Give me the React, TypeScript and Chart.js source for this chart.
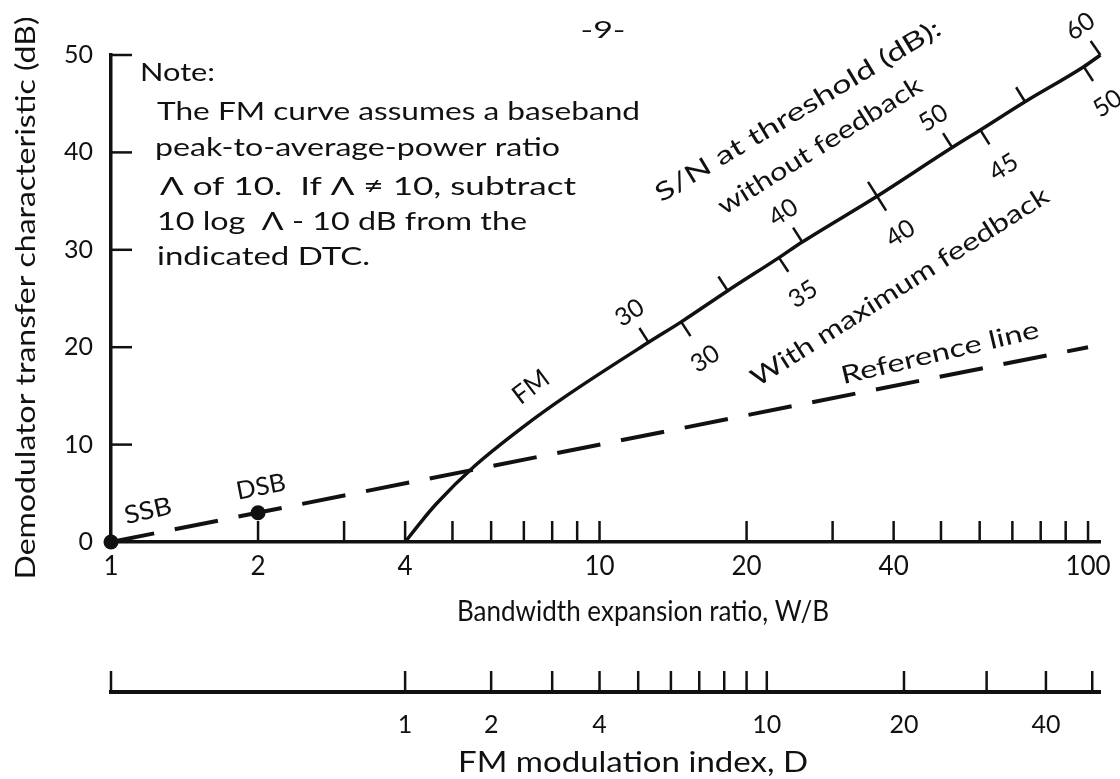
import React, { useEffect, useRef } from 'react';
import { Chart, registerables } from 'chart.js';

Chart.register(...registerables);

// ---------- data ----------
const X_MIN = 1;
const X_MAX = 105.8;
const WB_AXIS_TICKS = [1, 2, 3, 4, 5, 6, 7, 8, 9, 10, 20, 30, 40, 50, 60, 70, 80, 90, 100];
const WB_AXIS_LABELS = ['1', '2', '', '4', '', '', '', '', '', '10', '20', '', '40', '', '', '', '', '', '100'];
const DTC_TICKS = [0, 10, 20, 30, 40, 50];
// FM modulation index D axis: tick positions expressed in W/B
const D_TICK_WB = [1, 4, 6, 8, 10, 12, 14, 16, 18, 20, 22, 42, 62, 82, 102];
const D_LABELS = ['', '1', '2', '', '4', '', '', '', '', '', '10', '20', '', '40', ''];

const FM_WB = [4, 4.3, 4.63, 5.55, 6.97, 8.55, 12.6, 14.7, 18.3, 23.3, 26, 37, 52.7, 60.2, 74.3, 98, 106];
const FM_DTC = [0, 2.0, 3.9, 7.8, 11.8, 15.0, 20.5, 22.6, 25.8, 29.2, 30.8, 35.5, 40.5, 42.3, 45.2, 48.8, 50];

const REF_WB = [1, 100];
const REF_DTC = [0, 20];

const SYSTEM_NAMES = ['SSB', 'DSB'];
const SYSTEM_WB = [1, 2];
const SYSTEM_DTC = [0, 3];

const SN_NOFB_WB = [12.6, 18.3, 26, 37, 52.7, 74.3, 106];
const SN_NOFB_LABELS = ['30', '', '40', '', '50', '', '60'];
const SN_FB_WB = [14.7, 23.3, 37, 60.2, 98];
const SN_FB_LABELS = ['30', '35', '40', '45', '50'];

const NOTE_LINES = [
  'Note:',
  'The FM curve assumes a baseband',
  'peak-to-average-power ratio',
  '\u039B of 10.  If \u039B \u2260 10, subtract',
  '10 log  \u039B - 10 dB from the',
  'indicated DTC.',
];

// ---------- styles ----------
const FONT = 'Lato, "Open Sans", "DejaVu Sans", sans-serif';
const INK = '#111111';

function drawText(
  ctx: CanvasRenderingContext2D,
  s: string,
  x: number,
  y: number,
  size: number,
  opts: { w?: number; rot?: number; align?: 'left' | 'center' | 'right' } = {}
) {
  const { w, rot = 0, align = 'center' } = opts;
  ctx.save();
  ctx.translate(x, y);
  ctx.rotate((rot * Math.PI) / 180);
  ctx.font = `${size}px ${FONT}`;
  ctx.textBaseline = 'middle';
  ctx.textAlign = 'left';
  const mw = ctx.measureText(s).width;
  const sx = w ? w / mw : 1;
  const dw = mw * sx;
  const start = align === 'center' ? -dw / 2 : align === 'right' ? -dw : 0;
  ctx.translate(start, 0);
  ctx.scale(sx, 1);
  ctx.fillText(s, 0, 0);
  ctx.restore();
}

function fmAt(v: number) {
  const lx = Math.log10(v);
  for (let i = 0; i < FM_WB.length - 1; i++) {
    const a = Math.log10(FM_WB[i]);
    const b = Math.log10(FM_WB[i + 1]);
    if (lx >= a && lx <= b) return FM_DTC[i] + ((FM_DTC[i + 1] - FM_DTC[i]) * (lx - a)) / (b - a);
  }
  return lx < Math.log10(FM_WB[0]) ? FM_DTC[0] : FM_DTC[FM_DTC.length - 1];
}

const annotate = {
  id: 'annotate',
  afterDraw(chart: any) {
    const ctx: CanvasRenderingContext2D = chart.ctx;
    const xs = chart.scales.x;
    const x2 = chart.scales.x2;
    const ys = chart.scales.y;
    const { left, bottom } = chart.chartArea;
    const line = (a: number, b: number, c: number, d: number) => {
      ctx.beginPath();
      ctx.moveTo(a, b);
      ctx.lineTo(c, d);
      ctx.stroke();
    };
    ctx.save();
    ctx.strokeStyle = INK;
    ctx.fillStyle = INK;
    ctx.lineCap = 'butt';
    ctx.lineWidth = 2.5;

    // inward axis ticks
    WB_AXIS_TICKS.forEach((v) => {
      if (v === 1) return;
      const px = xs.getPixelForValue(v);
      line(px, bottom, px, bottom - 21);
    });
    DTC_TICKS.forEach((v) => {
      if (v === 0) return;
      const py = ys.getPixelForValue(v);
      line(left, py, left + 21, py);
    });
    D_TICK_WB.forEach((v) => {
      const px = x2.getPixelForValue(v);
      line(px, x2.top, px, x2.top - 21);
    });

    // S/N ticks along FM curve
    const last = FM_WB[FM_WB.length - 1];
    const pix = (v: number) => ({ x: xs.getPixelForValue(v), y: ys.getPixelForValue(fmAt(v)) });
    const markSide = (vals: number[], labels: string[], side: number, off: number) => {
      vals.forEach((v, i) => {
        const p = pix(v);
        const p1 = pix(v / 1.05);
        const p2 = pix(Math.min(v * 1.05, last));
        const ang = Math.atan2(p2.y - p1.y, p2.x - p1.x);
        const nx = Math.sin(ang) * side;
        const ny = -Math.cos(ang) * side;
        ctx.lineWidth = 2.5;
        line(p.x, p.y, p.x + nx * 17, p.y + ny * 17);
        if (labels[i]) {
          drawText(ctx, labels[i], p.x + nx * off, p.y + ny * off, 25, {
            rot: (ang * 180) / Math.PI,
          });
        }
      });
    };
    markSide(SN_NOFB_WB, SN_NOFB_LABELS, 1, 35);
    markSide(SN_FB_WB, SN_FB_LABELS, -1, 44);

    // texts
    drawText(ctx, '-9-', 603, 30, 24, { w: 45 });
    const noteX = [140, 157, 155, 160, 157, 157];
    const noteY = [73, 112, 148, 187, 222, 257];
    const noteW = [75, 483, 405, 416, 370, 213];
    NOTE_LINES.forEach((s, i) => drawText(ctx, s, noteX[i], noteY[i], 25, { w: noteW[i], align: 'left' }));

    drawText(ctx, 'Demodulator transfer characteristic (dB)', 26, 298, 27, { w: 563, rot: -90 });
    drawText(ctx, 'Bandwidth expansion ratio, W/B', 643, 612, 29, { w: 372 });
    drawText(ctx, 'FM modulation index, D', 633, 763, 29, { w: 350 });

    drawText(ctx, SYSTEM_NAMES[0], 148, 511, 25, { w: 48, rot: -13 });
    drawText(ctx, SYSTEM_NAMES[1], 261, 487, 25, { w: 50, rot: -11 });
    drawText(ctx, 'FM', 531, 387, 26, { rot: -37 });
    drawText(ctx, 'S/N at threshold (dB):', 798, 111, 25, { w: 329, rot: -31 });
    drawText(ctx, 'without feedback', 820, 146, 25, { w: 236, rot: -32 });
    drawText(ctx, 'With maximum feedback', 900, 287, 25, { w: 348, rot: -32.5 });
    drawText(ctx, 'Reference line', 940, 353, 25, { w: 203, rot: -13.4 });

    ctx.restore();
  },
};

export default function App() {
  const ref = useRef<HTMLCanvasElement>(null);
  useEffect(() => {
    const chart = new Chart(ref.current as HTMLCanvasElement, {
      type: 'line',
      data: {
        datasets: [
          {
            label: 'FM',
            data: FM_WB.map((x, i) => ({ x, y: FM_DTC[i] })),
            borderColor: INK,
            borderWidth: 3.5,
            pointRadius: 0,
            cubicInterpolationMode: 'monotone',
            clip: false,
          } as any,
          {
            label: 'Reference line',
            data: REF_WB.map((x, i) => ({ x, y: REF_DTC[i] })),
            borderColor: INK,
            borderWidth: 4,
            borderDash: [44, 21],
            pointRadius: 0,
            clip: false,
          } as any,
          {
            label: 'Systems',
            data: SYSTEM_WB.map((x, i) => ({ x, y: SYSTEM_DTC[i] })),
            showLine: false,
            pointRadius: 7.5,
            pointBackgroundColor: INK,
            pointBorderColor: INK,
            pointBorderWidth: 0,
            clip: false,
          } as any,
        ],
      },
      options: {
        responsive: false,
        animation: false,
        devicePixelRatio: 1,
        events: [],
        layout: { padding: { top: 55, right: 20, left: 0, bottom: 0 } },
        plugins: { legend: { display: false }, tooltip: { enabled: false }, title: { display: false } },
        scales: {
          x: {
            type: 'logarithmic',
            position: 'bottom',
            weight: 0,
            min: X_MIN,
            max: X_MAX,
            afterBuildTicks: (s: any) => {
              s.ticks = WB_AXIS_TICKS.map((v) => ({ value: v }));
            },
            afterFit: (s: any) => {
              s.height = 150;
            },
            grid: { display: false, drawTicks: false },
            border: { display: true, color: INK, width: 3.5 },
            ticks: {
              autoSkip: false,
              maxRotation: 0,
              minRotation: 0,
              padding: 9,
              color: INK,
              font: { family: FONT, size: 26 },
              callback: (_v: any, i: number) => WB_AXIS_LABELS[i],
            },
          },
          x2: {
            type: 'logarithmic',
            position: 'bottom',
            weight: 1,
            min: X_MIN,
            max: X_MAX,
            afterBuildTicks: (s: any) => {
              s.ticks = D_TICK_WB.map((v) => ({ value: v }));
            },
            afterFit: (s: any) => {
              s.height = 87;
            },
            grid: { display: false, drawTicks: false },
            border: { display: true, color: INK, width: 4 },
            ticks: {
              autoSkip: false,
              maxRotation: 0,
              minRotation: 0,
              padding: 18,
              color: INK,
              font: { family: FONT, size: 25 },
              callback: (_v: any, i: number) => D_LABELS[i],
            },
          },
          y: {
            type: 'linear',
            position: 'left',
            min: 0,
            max: 50,
            afterBuildTicks: (s: any) => {
              s.ticks = DTC_TICKS.map((v) => ({ value: v }));
            },
            afterFit: (s: any) => {
              s.width = 111;
            },
            grid: { display: false, drawTicks: false },
            border: { display: true, color: INK, width: 3.5 },
            ticks: {
              padding: 18,
              color: INK,
              font: { family: FONT, size: 25 },
              callback: (v: any) => String(v),
            },
          },
        },
      } as any,
      plugins: [annotate],
    });
    return () => chart.destroy();
  }, []);
  return (
    <div style={{ position: 'fixed', left: 0, top: 0, width: 1120, height: 779, background: '#fff' }}>
      <canvas ref={ref} width={1120} height={779} style={{ display: 'block', width: 1120, height: 779 }} />
    </div>
  );
}
